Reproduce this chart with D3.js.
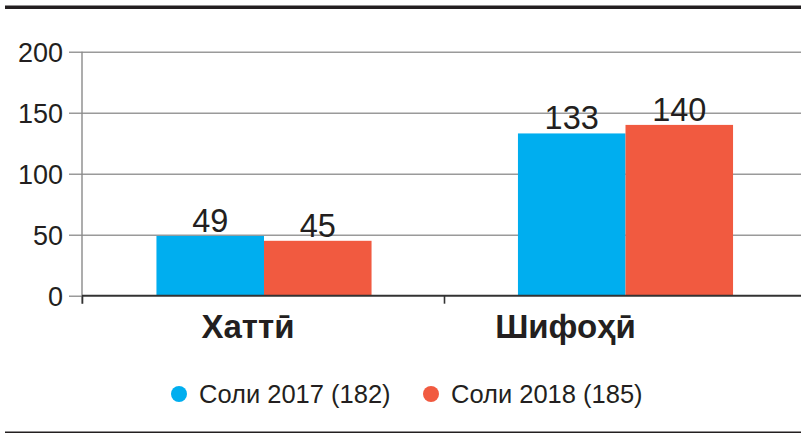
<!DOCTYPE html>
<html><head><meta charset="utf-8">
<script src="https://cdn.jsdelivr.net/npm/d3@7"></script>
<style>body{margin:0;background:#fff}svg{display:block}text{font-family:"Liberation Sans",Arial,sans-serif;fill:#231f20}</style>
</head><body>
<svg id="c" width="801" height="435"></svg>
<script>
const categories = ["Хаттӣ", "Шифоҳӣ"];
const seriesNames = ["Соли 2017 (182)", "Соли 2018 (185)"];
const values2017 = [49, 133];
const values2018 = [45, 140];
const yTicks = [0, 50, 100, 150, 200];
const colors = ["#00aeef", "#f15a40"];

(function () {
const svg = d3.select("#c");
const pLeft = 82, pRight = 806, pTop = 51.7, pBottom = 295.7;
const y = d3.scaleLinear().domain([0, 200]).range([pBottom, pTop]);
const x = d3.scaleBand().domain(categories).range([83.25, 806.25]).paddingInner(0.405).paddingOuter(0.2025);
const xs = d3.scaleBand().domain([0, 1]).range([0, x.bandwidth()]);

// top rule
svg.append("rect").attr("x", 5).attr("y", 5.5).attr("width", 796).attr("height", 3.5).attr("fill", "#231f20");
// bottom rule
svg.append("rect").attr("x", 5).attr("y", 431.5).attr("width", 796).attr("height", 1.5).attr("fill", "#231f20");

// y axis with gridlines
const yAxis = d3.axisLeft(y).tickValues(yTicks).tickSize(-(801 - pLeft)).tickPadding(20);
const gy = svg.append("g").attr("transform", `translate(${pLeft},0)`).call(yAxis);
gy.select(".domain").remove();
gy.selectAll(".tick line").attr("stroke", "#9a9a9a").attr("stroke-width", 1.4).attr("x1", -13);
gy.selectAll(".tick text").attr("font-size", 27).attr("font-family", "Liberation Sans, Arial, sans-serif").attr("fill", "#231f20").attr("dy", "0.36em").attr("x", -19);
// y axis line
svg.append("line").attr("x1", pLeft).attr("x2", pLeft).attr("y1", pTop).attr("y2", pBottom + 8).attr("stroke", "#8a8a8a").attr("stroke-width", 1.4);

// bars
const series = [values2017, values2018];
series.forEach((vals, si) => {
  svg.append("g").selectAll("rect").data(categories).join("rect")
    .attr("x", (d) => x(d) + xs(si))
    .attr("width", xs.bandwidth())
    .attr("y", (d, i) => y(vals[i]))
    .attr("height", (d, i) => y(0) - y(vals[i]))
    .attr("fill", colors[si]);
  svg.append("g").selectAll("text").data(categories).join("text")
    .attr("x", (d) => x(d) + xs(si) + xs.bandwidth() / 2)
    .attr("y", (d, i) => y(vals[i]) - 4)
    .attr("text-anchor", "middle")
    .attr("font-size", 32.5)
    .text((d, i) => vals[i]);
});

// x axis baseline and ticks
const xAxis = d3.axisBottom(d3.scaleLinear().domain([0, 2]).range([pLeft, pRight])).ticks(2).tickSize(8).tickFormat("");
const gx = svg.append("g").attr("transform", `translate(0,${pBottom})`).call(xAxis);
gx.select(".domain").attr("stroke", "#333").attr("stroke-width", 1.8).attr("d", `M${pLeft},0H${pRight}`);
gx.selectAll(".tick line").attr("stroke", "#333").attr("stroke-width", 1.6);

// category labels
const labelShift = [-16, -60];
svg.append("g").selectAll("text").data(categories).join("text")
  .attr("x", (d, i) => x(d) + x.bandwidth() / 2 + labelShift[i])
  .attr("y", 338)
  .attr("text-anchor", "middle")
  .attr("font-size", 33)
  .attr("font-weight", "bold")
  .text((d) => d);

// legend
const legX = [179, 431];
const lg = svg.append("g").selectAll("g").data(seriesNames).join("g")
  .attr("transform", (d, i) => `translate(${legX[i]},394)`);
lg.append("circle").attr("r", 8).attr("fill", (d, i) => colors[i]);
lg.append("text").attr("x", 20).attr("y", 8.5).attr("font-size", 25.5).text((d) => d);
})();
</script>
</body></html>
